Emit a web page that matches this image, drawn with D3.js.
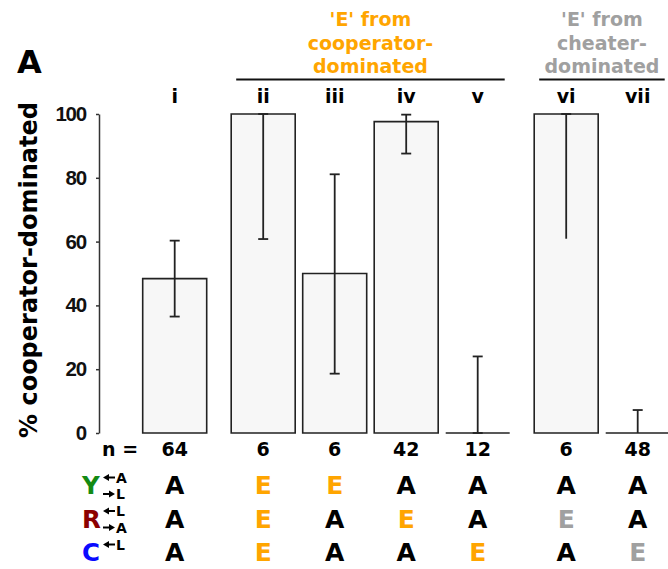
<!DOCTYPE html>
<html>
<head>
<meta charset="utf-8">
<script src="https://cdn.jsdelivr.net/npm/d3@7"></script>
<style>
  body { margin: 0; background: #fff; }
  svg { display: block; }
  .bold { font-family: "DejaVu Sans", sans-serif; font-weight: bold; }
</style>
</head>
<body>
<div id="chart"></div>
<script>
// bar data
var conditions = ["i", "ii", "iii", "iv", "v", "vi", "vii"];
var pctCoop = [48.4, 100, 50, 97.6, 0, 100, 0];
var errLow = [36.5, 60.8, 18.6, 87.6, 0, 60.9, 0];
var errHigh = [60.3, 100, 81.1, 99.8, 24.0, 100, 7.2];
var nCounts = [64, 6, 6, 42, 12, 6, 48];
var groupOf = [0, 1, 1, 1, 1, 2, 2];
var yTicks = [0, 20, 40, 60, 80, 100];

// genotype table under the bars
var rowY = ["A", "E", "E", "A", "A", "A", "A"];
var rowR = ["A", "E", "A", "E", "A", "E", "A"];
var rowC = ["A", "E", "A", "A", "E", "A", "E"];

var header1 = ["'E' from", "cooperator-", "dominated"];
var header2 = ["'E' from", "cheater-", "dominated"];

var width = 668, height = 569;
var orange = "#ffa500", gray = "#a0a0a0";

var svg = d3.select("#chart").append("svg")
    .attr("width", width)
    .attr("height", height);

var y = d3.scaleLinear().domain([0, 100]).range([433, 114]);

var step = 71.5, groupGap = 17, bw = 64;
var xIdx = d3.scaleLinear().domain([0, 6]).range([174.7, 174.7 + 6 * step]);
var cx = function(i) { return xIdx(i) + groupOf[i] * groupGap; };

// y axis
var axis = svg.append("g")
    .attr("transform", "translate(99,0)")
    .call(d3.axisLeft(y).tickValues(yTicks).tickSize(3).tickSizeOuter(0).tickPadding(10));
axis.select(".domain").attr("stroke", "#333").attr("stroke-width", 1.5);
axis.selectAll(".tick line").attr("stroke", "#333").attr("stroke-width", 1.5);
axis.selectAll(".tick text")
    .attr("font-family", "Liberation Sans, Arial, sans-serif")
    .attr("font-weight", "bold")
    .attr("font-size", 20.5)
    .attr("letter-spacing", -1.2)
    .attr("fill", "#111");

svg.append("text")
    .attr("class", "bold")
    .attr("transform", "translate(37,270) rotate(-90)")
    .attr("text-anchor", "middle")
    .attr("font-size", 24)
    .text("% cooperator-dominated");

svg.append("text")
    .attr("class", "bold")
    .attr("x", 17).attr("y", 73)
    .attr("font-size", 32)
    .text("A");

// bars (paths so zero-height bars still show their base line)
svg.selectAll(".bar")
    .data(pctCoop)
    .enter()
    .append("path")
    .attr("class", "bar")
    .attr("d", function(d, i) {
        var x0 = cx(i) - bw / 2, x1 = cx(i) + bw / 2;
        return "M" + x0 + "," + y(0) + "V" + y(d) + "H" + x1 + "V" + y(0) + "Z";
    })
    .attr("fill", "#f7f7f7")
    .attr("stroke", "#222")
    .attr("stroke-width", 1.6);

// error bars
var eb = svg.selectAll(".err")
    .data(conditions)
    .enter()
    .append("g")
    .attr("class", "err")
    .attr("stroke", "#222")
    .attr("stroke-width", 1.8);

eb.append("line")
    .attr("x1", function(d, i) { return cx(i); })
    .attr("x2", function(d, i) { return cx(i); })
    .attr("y1", function(d, i) { return y(errLow[i]); })
    .attr("y2", function(d, i) { return y(errHigh[i]); });

eb.append("line")
    .attr("x1", function(d, i) { return cx(i) - 5; })
    .attr("x2", function(d, i) { return cx(i) + 5; })
    .attr("y1", function(d, i) { return y(errHigh[i]); })
    .attr("y2", function(d, i) { return y(errHigh[i]); });

eb.append("line")
    .filter(function(d, i) { return errLow[i] > 0; })
    .attr("x1", function(d, i) { return cx(i) - 5; })
    .attr("x2", function(d, i) { return cx(i) + 5; })
    .attr("y1", function(d, i) { return y(errLow[i]); })
    .attr("y2", function(d, i) { return y(errLow[i]); });

// roman numerals
svg.selectAll(".cond")
    .data(conditions)
    .enter()
    .append("text")
    .attr("class", "bold")
    .attr("x", function(d, i) { return cx(i); })
    .attr("y", 102.5)
    .attr("text-anchor", "middle")
    .attr("font-size", 19)
    .text(function(d) { return d; });

// group headers
var drawHeader = function(lines, first, last, color) {
    var x0 = cx(first) - bw / 2 + 5, x1 = cx(last) + bw / 2 - 5;
    svg.append("line")
        .attr("x1", x0).attr("x2", x1)
        .attr("y1", 79.5).attr("y2", 79.5)
        .attr("stroke", "#111")
        .attr("stroke-width", 2);
    svg.append("g").selectAll("text")
        .data(lines)
        .enter()
        .append("text")
        .attr("class", "bold")
        .attr("x", (x0 + x1) / 2)
        .attr("y", function(d, i) { return 26 + i * 23.5; })
        .attr("text-anchor", "middle")
        .attr("font-size", 19)
        .attr("fill", color)
        .text(function(d) { return d; });
};
drawHeader(header1, 1, 4, orange);
drawHeader(header2, 5, 6, gray);

// n row
svg.append("text")
    .attr("class", "bold")
    .attr("x", 102).attr("y", 456)
    .attr("font-size", 19)
    .text("n =");

svg.selectAll(".n")
    .data(nCounts)
    .enter()
    .append("text")
    .attr("class", "bold")
    .attr("x", function(d, i) { return cx(i); })
    .attr("y", 456)
    .attr("text-anchor", "middle")
    .attr("font-size", 19)
    .text(function(d) { return d; });

// genotype rows
var cellColor = function(v, i) {
    if (v !== "E") return "#000";
    return groupOf[i] === 2 ? gray : orange;
};
[rowY, rowR, rowC].forEach(function(row, r) {
    svg.append("g").selectAll("text")
        .data(row)
        .enter()
        .append("text")
        .attr("class", "bold")
        .attr("x", function(d, i) { return cx(i); })
        .attr("y", 494 + r * 33.5)
        .attr("text-anchor", "middle")
        .attr("font-size", 25)
        .attr("fill", cellColor)
        .text(function(d) { return d; });
});

// small arrow: dir -1 points left, +1 points right
var drawArrow = function(x0, x1, yy, dir) {
    var tip = dir < 0 ? x0 : x1, tail = dir < 0 ? x1 : x0;
    svg.append("line")
        .attr("x1", tail).attr("x2", tip - dir * 3)
        .attr("y1", yy).attr("y2", yy)
        .attr("stroke", "#000").attr("stroke-width", 2);
    svg.append("path")
        .attr("d", "M" + tip + "," + yy + "L" + (tip - dir * 6) + "," + (yy - 3.5) +
                   "L" + (tip - dir * 6) + "," + (yy + 3.5) + "Z")
        .attr("fill", "#000");
};

// row labels with arrows
var rowLabels = [
    { letter: "Y", color: "#138a13", top: ["A", -1], bottom: ["L", 1] },
    { letter: "R", color: "#8b0000", top: ["L", -1], bottom: ["A", 1] },
    { letter: "C", color: "#0a0aff", top: ["L", -1], bottom: null }
];
rowLabels.forEach(function(lab, r) {
    var base = 494 + r * 33.5;
    svg.append("text")
        .attr("class", "bold")
        .attr("x", 82).attr("y", base)
        .attr("font-size", 24.5)
        .attr("fill", lab.color)
        .text(lab.letter);
    var parts = lab.bottom ? [[lab.top, base - 11.5], [lab.bottom, base + 5]] : [[lab.top, base - 11.5]];
    parts.forEach(function(p) {
        drawArrow(103, 115, p[1] - 5, p[0][1]);
        svg.append("text")
            .attr("class", "bold")
            .attr("x", 116).attr("y", p[1])
            .attr("font-size", 14)
            .text(p[0][0]);
    });
});
</script>
</body>
</html>
